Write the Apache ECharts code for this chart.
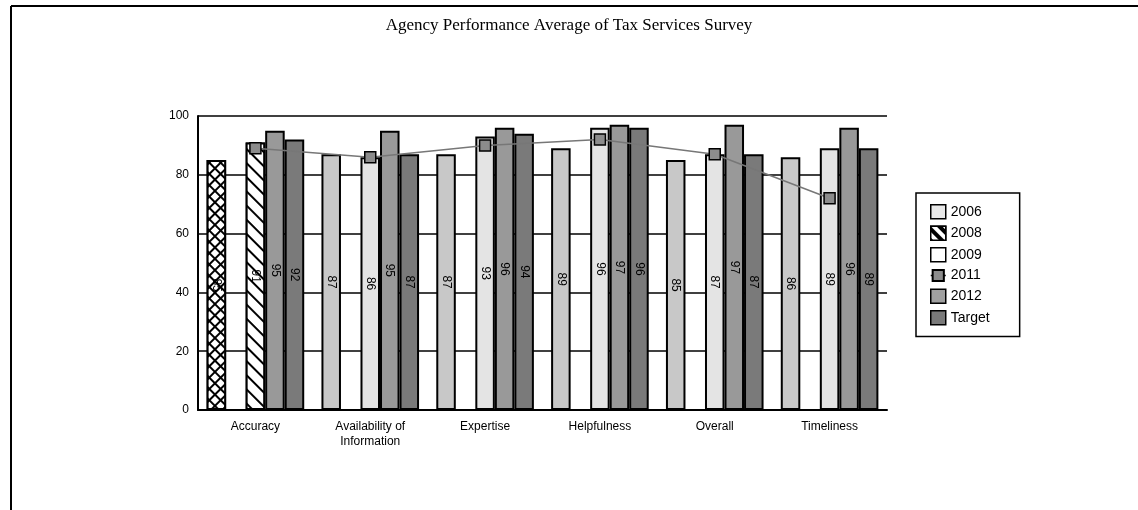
<!DOCTYPE html>
<html>
<head>
<meta charset="utf-8">
<script src="https://cdn.jsdelivr.net/npm/echarts@6/dist/echarts.min.js"></script>
<style>
html,body{margin:0;padding:0;background:#fff;}
#c{width:1138px;height:510px;}
</style>
</head>
<body>
<div id="c"></div>
<script>
var categories = ['Accuracy', 'Availability of\nInformation', 'Expertise', 'Helpfulness', 'Overall', 'Timeliness'];
var yTicks = [0, 20, 40, 60, 80, 100];
var s2006 = [85, 87, 87, 89, 85, 86];
var s2008 = [null, null, null, null, null, null];
var s2009 = [91, 86, 93, 96, 87, 89];
var s2011 = [89, 86, 90, 92, 87, 72];
var s2012 = [95, 95, 96, 97, 97, 96];
var sTarget = [92, 87, 94, 96, 87, 89];

var crossDecal = {symbol: 'rect', symbolSize: 1, color: '#fff', backgroundColor: '#000', dashArrayX: [6, 1.2], dashArrayY: [6, 1.2], rotation: Math.PI / 4};
var hatchDecal = {symbol: 'rect', symbolSize: 1, color: '#000', backgroundColor: '#fff', dashArrayX: [1, 0], dashArrayY: [1.3, 8], rotation: Math.PI / 4};

var chart = echarts.init(document.getElementById('c'));

function barLabel() {
  return {show: true, position: 'inside', rotate: -90, color: '#000', fontFamily: 'Arial, Liberation Sans, sans-serif', fontSize: 12};
}
function withFirst(arr, style) {
  return arr.map(function (v, i) {
    return i === 0 ? {value: v, itemStyle: style} : v;
  });
}

chart.setOption({
  animation: false,
  backgroundColor: '#fff',
  title: {
    text: 'Agency Performance Average of Tax Services Survey',
    left: 'center', top: 12,
    textStyle: {fontFamily: 'Liberation Serif, Times New Roman, serif', fontWeight: 'normal', fontSize: 17, color: '#000'}
  },
  graphic: [
    {type: 'line', shape: {x1: 11, y1: 6, x2: 1138, y2: 6}, style: {stroke: '#000', lineWidth: 2}},
    {type: 'line', shape: {x1: 11, y1: 6, x2: 11, y2: 510}, style: {stroke: '#000', lineWidth: 2}}
  ],
  legend: {
    orient: 'vertical', left: 916, top: 193,
    padding: [11, 30, 11, 14],
    itemWidth: 15, itemHeight: 14, itemGap: 6,
    borderColor: '#000', borderWidth: 1.5,
    textStyle: {fontFamily: 'Arial, Liberation Sans, sans-serif', fontSize: 14, color: '#000'},
    data: [
      {name: '2006', icon: 'rect', itemStyle: {color: '#e8e8e8', borderColor: '#000', borderWidth: 1.5}},
      {name: '2008', icon: 'rect', itemStyle: {color: '#fff', borderColor: '#000', borderWidth: 1.5, decal: {symbol: 'rect', symbolSize: 1, color: '#000', backgroundColor: '#fff', dashArrayX: [1, 0], dashArrayY: [4, 4], rotation: Math.PI / 4}}},
      {name: '2009', icon: 'rect', itemStyle: {color: '#fff', borderColor: '#000', borderWidth: 1.5}},
      {name: '2011', lineStyle: {color: '#000', width: 1.5}},
      {name: '2012', icon: 'rect', itemStyle: {color: '#a0a0a0', borderColor: '#000', borderWidth: 1.5}},
      {name: 'Target', icon: 'rect', itemStyle: {color: '#7a7a7a', borderColor: '#000', borderWidth: 1.5}}
    ]
  },
  grid: {left: 198, right: 251, top: 116, bottom: 100},
  xAxis: {
    type: 'category', data: categories,
    axisLine: {lineStyle: {color: '#000', width: 2}},
    axisTick: {show: false},
    axisLabel: {color: '#000', fontFamily: 'Arial, Liberation Sans, sans-serif', fontSize: 12, margin: 9, lineHeight: 15},
    splitLine: {show: false}
  },
  yAxis: {
    type: 'value', min: yTicks[0], max: yTicks[yTicks.length - 1], interval: 20,
    axisLine: {show: true, lineStyle: {color: '#000', width: 2}},
    axisTick: {show: false},
    axisLabel: {color: '#000', fontFamily: 'Arial, Liberation Sans, sans-serif', fontSize: 12, margin: 9},
    splitLine: {show: true, lineStyle: {color: '#000', width: 1.5}}
  },
  series: [
    {name: '2006', type: 'bar', barGap: '0%', barCategoryGap: '15%',
      data: withFirst(s2006, {color: '#fff', decal: crossDecal}),
      itemStyle: {color: '#c8c8c8', borderColor: '#000', borderWidth: 2}, label: barLabel()},
    {name: '2008', type: 'bar', data: s2008,
      itemStyle: {color: '#fff', borderColor: '#000', borderWidth: 2}, label: barLabel()},
    {name: '2009', type: 'bar',
      data: withFirst(s2009, {color: '#fff', decal: hatchDecal}),
      itemStyle: {color: '#e4e4e4', borderColor: '#000', borderWidth: 2}, label: barLabel()},
    {name: '2012', type: 'bar', data: s2012,
      itemStyle: {color: '#999999', borderColor: '#000', borderWidth: 2}, label: barLabel()},
    {name: 'Target', type: 'bar', data: sTarget,
      itemStyle: {color: '#7a7a7a', borderColor: '#000', borderWidth: 2}, label: barLabel()},
    {name: '2011', type: 'line', data: s2011, z: 5,
      symbol: 'rect', symbolSize: 11,
      lineStyle: {color: '#777', width: 1.5},
      itemStyle: {color: '#8c8c8c', borderColor: '#000', borderWidth: 1.5}}
  ]
});
</script>
</body>
</html>
